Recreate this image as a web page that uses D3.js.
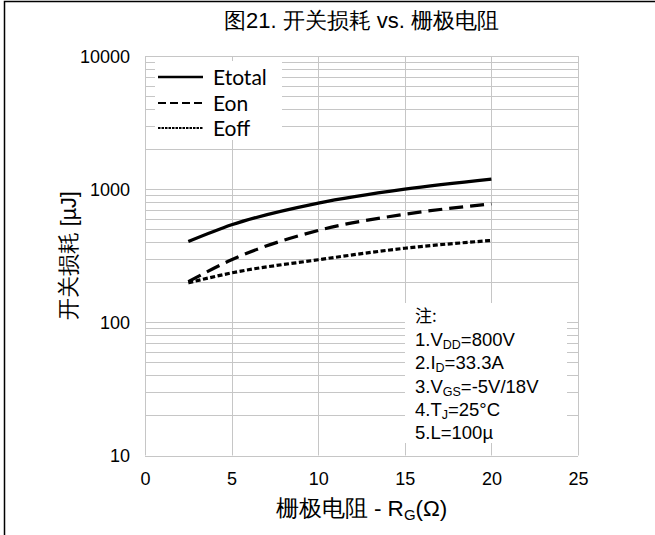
<!DOCTYPE html>
<html><head><meta charset="utf-8">
<script src="https://cdn.jsdelivr.net/npm/d3@7"></script>
<style>
html,body{margin:0;padding:0;background:#fff;}
svg{display:block;}
text{font-family:"Liberation Sans",Arial,sans-serif;fill:#000;}
</style></head>
<body>
<svg id="chart" width="655" height="535"></svg>
<script>
// ---- data ----
const rg = [2.5, 5, 10, 15, 20];
const etotal = [404, 540, 785, 1000, 1190];
const eon = [202, 295, 490, 648, 775];
const eoff = [198, 235, 295, 360, 412];
const seriesNames = ["Etotal", "Eon", "Eoff"];
const xTicks = [0, 5, 10, 15, 20, 25];
const yTicks = [10, 100, 1000, 10000];
const titleText = "图21. 开关损耗 vs. 栅极电阻";
const yTitle = "开关损耗 [µJ]";
const notes = [
  ["注:"],
  ["1.V", "DD", "=800V"],
  ["2.I", "D", "=33.3A"],
  ["3.V", "GS", "=-5V/18V"],
  ["4.T", "J", "=25°C"],
  ["5.L=100µ"]
];

const svg = d3.select("#chart");
const L = 145, R = 578, T = 56, B = 455.5;
const x = d3.scaleLinear().domain([0, 25]).range([L, R]);
const y = d3.scaleLog().domain([10, 10000]).range([B, T]);
const grid = "#c6c6c6";

// outer border (top & left visible)
svg.append("rect").attr("x", 4.5).attr("y", 1.5).attr("width", 700).attr("height", 600)
  .attr("fill", "none").attr("stroke", "#000").attr("stroke-width", 1.5);

// title
svg.append("text").attr("x", (L + R) / 2).attr("y", 28).attr("text-anchor", "middle")
  .style("font-size", "22px").text(titleText);

// gridlines
const gG = svg.append("g");
const minor = [];
for (let d = 10; d < 10000; d *= 10) for (let k = 1; k <= 10; k++) minor.push(d * k);
gG.selectAll("line.h").data(Array.from(new Set(minor))).enter().append("line")
  .attr("x1", L).attr("x2", R)
  .attr("y1", d => Math.round(y(d)) + 0.5).attr("y2", d => Math.round(y(d)) + 0.5)
  .attr("stroke", grid).attr("stroke-width", 1);
gG.selectAll("line.v").data(xTicks).enter().append("line")
  .attr("x1", d => Math.round(x(d)) + 0.5).attr("x2", d => Math.round(x(d)) + 0.5)
  .attr("y1", T).attr("y2", B)
  .attr("stroke", grid).attr("stroke-width", 1);

// axes
const xAxis = svg.append("g").attr("transform", `translate(0,${B + 14})`)
  .call(d3.axisBottom(x).tickValues(xTicks).tickSize(0).tickFormat(d3.format("d")));
xAxis.select(".domain").remove();
xAxis.selectAll("text").style("font-size", "18px").attr("dy", "0.71em");

const yAxis = svg.append("g").attr("transform", `translate(${L - 15},0)`)
  .call(d3.axisLeft(y).tickValues(yTicks).tickSize(0).tickFormat(d3.format("d")));
yAxis.select(".domain").remove();
yAxis.selectAll("text").style("font-size", "18px").attr("x", 0).attr("dy", "0.35em");

// axis titles
svg.append("text").attr("transform", `translate(${76},${(T + B) / 2}) rotate(-90)`)
  .attr("text-anchor", "middle").style("font-size", "21.5px").text(yTitle);
const xt = svg.append("text").attr("x", (L + R) / 2).attr("y", 516).attr("text-anchor", "middle")
  .style("font-size", "22.5px");
xt.append("tspan").text("栅极电阻 - R");
xt.append("tspan").attr("dy", 4).style("font-size", "15px").text("G");
xt.append("tspan").attr("dy", -4).text("(Ω)");

// white boxes (legend and notes)
svg.append("rect").attr("x", 155).attr("y", 61).attr("width", 127).attr("height", 79).attr("fill", "#fff");
svg.append("rect").attr("x", 405).attr("y", 303).attr("width", 162).attr("height", 140).attr("fill", "#fff");

// lines
const styles = [
  { vals: etotal, dash: null },
  { vals: eon, dash: "14,7" },
  { vals: eoff, dash: "5,2.5" }
];
const line = d3.line().x(d => x(d[0])).y(d => y(d[1])).curve(d3.curveMonotoneX);
styles.forEach(s => {
  svg.append("path").datum(rg.map((r, i) => [r, s.vals[i]]))
    .attr("d", line).attr("fill", "none").attr("stroke", "#000")
    .attr("stroke-width", 3.2).attr("stroke-linejoin", "round")
    .attr("stroke-dasharray", s.dash);
});

// legend
const legY = [77, 103, 128];
seriesNames.forEach((n, i) => {
  svg.append("line").attr("x1", 158).attr("x2", 203).attr("y1", legY[i]).attr("y2", legY[i])
    .attr("stroke", "#000").attr("stroke-width", i === 0 ? 2.6 : 2.2)
    .attr("stroke-dasharray", i === 0 ? null : (i === 1 ? "8,4" : "2.5,1"));
  svg.append("text").attr("x", 213).attr("y", legY[i]).attr("dy", "0.36em")
    .style("font-family", "Lato, 'Open Sans', sans-serif").style("font-size", "21px").text(n);
});

// notes
notes.forEach((parts, i) => {
  const t = svg.append("text").attr("x", 415).attr("y", 316 + i * 23.3).attr("dy", "0.36em")
    .style("font-size", "18.5px");
  if (i === 0) { t.style("font-family", "'Noto Sans CJK SC',serif").style("font-size", "17px").text(parts[0]); return; }
  t.append("tspan").text(parts[0]);
  if (parts.length > 1) {
    t.append("tspan").attr("dy", 3).style("font-size", "12.5px").text(parts[1]);
    t.append("tspan").attr("dy", -3).text(parts[2]);
  }
});
</script>
</body></html>
